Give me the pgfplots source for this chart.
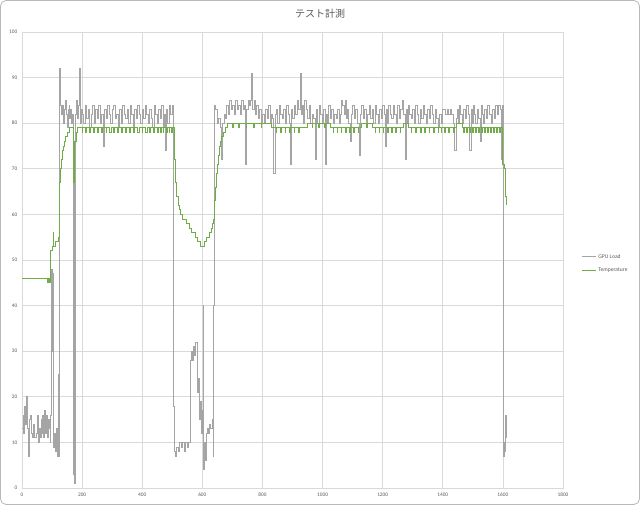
\documentclass[border=0pt]{standalone}
\usepackage{pgfplots}
\pgfplotsset{compat=1.18}
\usepackage{fontspec}
\setmainfont{Carlito}
\newfontfamily\cjk{Noto Sans CJK JP}
\definecolor{gpugray}{HTML}{A5A5A5}
\definecolor{tempgreen}{HTML}{70AD47}
\definecolor{gridc}{HTML}{D9D9D9}
\definecolor{txt}{HTML}{595959}
\begin{document}
\begin{tikzpicture}
\useasboundingbox (-16.5pt,-12.75pt) rectangle (463.5pt,366pt);
\draw[color=gray!55, line width=0.6pt, rounded corners=4pt] (-16.1pt,-12.35pt) rectangle (463.1pt,365.6pt);
\node[font=\cjk\fontsize{7.5}{9}\selectfont, text=txt] at (223.5pt,355.5pt) {テスト計測};
\begin{axis}[
  at={(0,0)}, anchor=south west,
  scale only axis, width=405.75pt, height=342pt,
  xmin=0, xmax=1800, ymin=0, ymax=100,
  xtick distance=200, ytick distance=10,
  grid=major, major grid style={gridc, line width=0.5pt},
  axis line style={gridc, line width=0.5pt},
  major tick length=0pt,
  tick label style={font=\fontsize{4}{5}\selectfont, text=txt},
  /pgf/number format/assume math mode=true,
  /pgf/number format/1000 sep={},
  legend style={draw=none, fill=none, at={(1.028,0.491)}, anchor=west,
    font=\fontsize{4.2}{5}\selectfont, text=txt, row sep=2pt,
    legend cell align=left},
]
\addlegendimage{legend image code/.code={\node[inner sep=0pt, anchor=west, text=gpugray] at (0pt,0pt) {\rule[-0.35pt]{10pt}{0.7pt}};}}
\addlegendentry{GPU Load}
\addlegendimage{legend image code/.code={\node[inner sep=0pt, anchor=west, text=tempgreen] at (0pt,0pt) {\rule[-0.35pt]{10pt}{0.7pt}};}}
\addlegendentry{Temperature}
\addplot[const plot, gpugray, line width=0.55pt, forget plot] coordinates {
(0,13)(3,16)(6,12)(9,18)(12,14)(15,20)(18,13)(21,7)(24,15)(27,16)(30,12)(33,11)(36,11)(39,14)(42,11)(45,11)(48,12)(51,16)(54,10)(57,13)(60,11)(63,15)(66,12)(69,16)(72,11)(75,17)(78,12)(81,16)(84,11)(87,15)(90,13)(93,10)(96,16)
(98,48)(100,30)(102,47)(104,9)(108,12)(112,8)(116,13)(119,7)(121,25)(123,7)(125,92)(127,91)(129,84)(132,82)(135,84)(138,80)(141,83)(144,85)(147,82)(150,79)(153,83)(156,84)(159,81)(162,83)(165,80)(168,82)(170,3)(172,70)(174,1)(176,60)(178,82)(181,85)(184,81)(187,84)(190,86)(192,92)(194,80)(197,83)
(200,82)(205,80)(210,84)(215,81)(220,83)(225,79)(230,82)(235,84)(240,80)(245,83)(250,81)(255,84)(260,80)(265,82)(270,75)(275,83)(280,81)(285,84)(290,82)(295,80)(300,83)(305,84)(310,81)(315,82)(320,79)(325,83)(330,80)(335,84)(340,82)(345,81)(350,83)(355,80)(360,84)(365,82)(370,79)(375,83)(380,81)(385,84)(390,82)(395,80)(400,83)(405,81)(410,84)(415,82)(420,80)(425,83)(430,81)(435,79)(440,84)(445,82)(450,80)(455,83)(460,81)(465,84)(470,79)(475,82)(478,74)(481,83)(485,80)(490,84)(495,82)(500,84)(504,81)
(505,18)(507,8)(510,7)(515,9)(520,8)(525,10)(530,9)(535,10)(540,8)(545,10)(550,9)(555,10)(559,28)(562,30)(566,28)(570,31)(574,29)(578,32)(582,26)(585,21)(588,24)(591,15)(594,19)(597,12)(600,17)(602,40)(604,4)(606,10)(609,6)(612,12)(616,13)(620,12)(624,14)(628,13)(632,15)(636,7)(638,40)
(640,84)(645,83)(650,80)(655,81)(660,79)(664,72)(668,80)(672,82)(676,81)(680,84)(685,82)(690,85)(695,83)(700,84)(705,82)(710,85)(715,83)(720,84)(725,82)(730,85)(735,83)(740,84)(744,71)(748,83)(752,85)(756,84)(760,85)(764,91)(768,83)(772,85)(776,82)(780,84)(785,81)(790,83)(795,80)(800,82)(805,80)(810,83)(815,81)(820,84)(825,80)(830,82)(834,81)(838,69)(842,82)(846,83)(850,80)(855,84)(860,82)(865,81)(870,83)(875,80)(880,84)(885,82)(889,80)(892,71)(896,83)(900,81)(905,84)(910,82)(915,85)(920,83)(925,91)(929,82)(933,84)(937,80)(941,85)(945,83)(950,81)(955,84)(960,80)(965,82)(970,81)(975,72)(979,83)(983,80)(988,84)(993,82)(998,80)
(1003,83)(1008,71)(1012,82)(1016,80)(1020,84)(1025,81)(1030,83)(1035,80)(1040,82)(1045,81)(1050,83)(1055,80)(1060,82)(1063,85)(1067,84)(1071,82)(1075,85)(1079,81)(1083,83)(1087,80)(1091,76)(1095,82)(1100,84)(1105,81)(1110,83)(1115,80)(1121,73)(1125,82)(1130,84)(1135,81)(1140,83)(1145,80)(1150,82)(1155,84)(1160,81)(1165,83)(1170,80)(1175,84)(1180,82)(1185,80)(1190,83)(1195,81)(1200,84)(1204,82)(1208,75)(1212,83)(1216,80)(1220,84)(1225,82)(1230,81)(1235,84)(1240,82)(1245,80)(1250,84)(1255,81)(1260,83)(1265,85)(1270,82)(1274,72)(1278,83)(1282,80)(1286,84)(1290,82)(1295,81)(1300,83)(1305,80)(1310,84)(1315,82)(1320,80)(1325,83)(1330,81)(1335,84)(1340,82)(1345,80)(1350,83)(1355,81)(1360,84)(1365,82)(1370,80)(1375,83)(1380,81)(1385,79)(1390,82)(1395,80)(1400,83)
(1405,83)(1410,82)(1415,83)(1420,82)(1425,83)(1430,82)(1435,80)(1440,74)(1444,81)(1448,83)(1452,80)(1456,84)(1460,82)(1465,80)(1470,83)(1475,81)(1480,84)(1485,82)(1490,74)(1494,83)(1498,80)(1502,84)(1506,82)(1510,80)(1515,83)(1520,81)(1524,76)(1528,84)(1532,82)(1536,80)(1540,83)(1545,81)(1550,84)(1555,82)(1560,80)(1565,83)(1570,81)(1575,84)(1580,82)(1585,84)(1590,83)(1594,72)(1597,84)(1600,23)(1602,7)(1604,10)(1606,8)(1608,16)(1610,11)(1612,11)
};
\addplot[const plot, tempgreen, line width=0.6pt, forget plot] coordinates {
(0,46)(82,46)(83,45)(86,46)(88,45)(92,46)(94,45)(96,52)(101,53)(103,56)(105,53)(110,54)(115,54)(120,55)(123,62)(125,67)(128,70)(131,72)(134,74)(137,75)(141,76)(145,77)(150,78)(158,79)(168,79)(170,78)(171,67)(173,72)(176,76)(180,78)(185,79)
(200,78)(202,79)(212,78)(215,79)(225,78)(227,79)(238,78)(242,79)(252,78)(254,79)(265,78)(268,79)(280,78)(282,79)(292,78)(296,79)(305,78)(308,79)(318,78)(320,79)(330,78)(334,79)(345,78)(347,79)(358,78)(362,79)(372,78)(374,79)(385,78)(390,79)(400,78)(402,79)(412,78)(416,79)(425,78)(428,79)(438,78)(440,79)(450,78)(455,79)(462,78)(464,79)(470,78)(472,79)(480,78)(483,79)(490,78)(492,79)(497,78)(499,79)(503,79)
(505,79)(507,72)(509,70)(512,67)(515,64)(519,62)(523,61)(527,60)(533,59)(540,59)(546,58)(553,58)(558,57)(563,56)(570,56)(576,55)(583,54)(590,54)(595,53)(605,53)(608,54)(614,55)(620,55)(624,56)(630,57)(634,58)(638,59)(640,63)(643,66)(646,69)(649,71)(652,73)(656,75)(660,76)(665,77)(670,78)(676,79)
(685,80)(700,79)(703,80)(720,79)(722,80)(745,79)(748,80)(770,79)(772,80)(795,79)(798,80)(830,79)(845,78)(847,79)(860,78)(862,79)(875,78)(878,79)(890,78)(893,79)(905,78)(907,79)(920,78)(922,79)(935,79)(950,80)(965,79)(967,80)(985,79)(988,80)(1005,79)(1008,80)(1025,79)(1035,78)(1037,79)(1048,78)(1050,79)(1062,78)(1064,79)(1075,78)(1078,79)(1090,78)(1092,79)(1104,78)(1106,79)(1118,78)(1120,79)(1130,80)(1145,79)(1148,80)(1165,79)(1175,78)(1177,79)(1188,78)(1190,79)(1202,78)(1204,79)(1216,78)(1218,79)(1230,78)(1232,79)(1244,78)(1246,79)(1258,78)(1260,79)(1270,80)(1285,79)(1295,78)(1297,79)(1310,78)(1312,79)(1325,78)(1328,79)(1340,78)(1342,79)(1355,78)(1357,79)(1370,78)(1372,79)(1385,78)(1387,79)(1395,78)(1397,79)(1405,78)(1408,79)(1420,78)(1422,79)(1435,78)(1437,79)(1445,80)(1465,79)(1470,78)(1472,79)(1480,78)(1482,79)(1490,78)(1492,79)(1500,78)(1502,79)(1510,78)(1512,79)(1520,78)(1522,79)(1530,78)(1532,79)(1540,78)(1542,79)(1550,78)(1552,79)(1560,78)(1562,79)(1570,78)(1572,79)(1580,78)(1582,79)(1590,78)(1592,79)(1598,78)(1600,71)(1604,70)(1607,67)(1610,64)(1612,62)
};
\end{axis}
\end{tikzpicture}
\end{document}
